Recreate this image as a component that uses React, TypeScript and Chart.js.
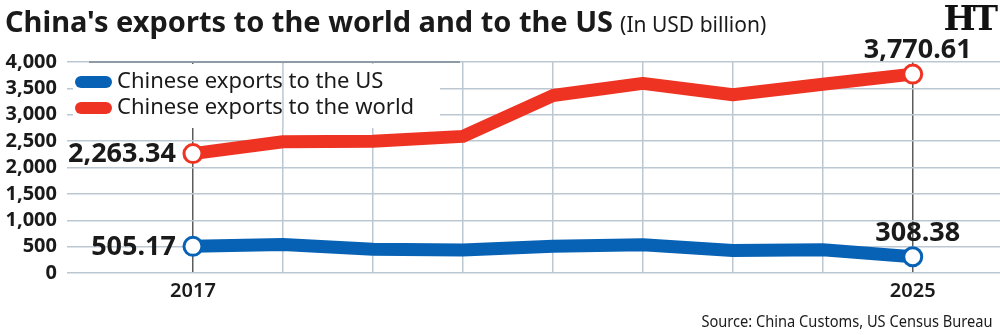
import React, { useEffect, useRef } from 'react';
import { Chart, registerables } from 'chart.js';

Chart.register(...registerables);

// Annual values, USD billion
const years = [2017, 2018, 2019, 2020, 2021, 2022, 2023, 2024, 2025];
const exportsToUS = [505.17, 538.5, 452.2, 435.4, 504.9, 536.3, 426.9, 438.9, 308.38];
const exportsToWorld = [2263.34, 2487.0, 2499.0, 2590.0, 3364.0, 3594.0, 3380.0, 3577.0, 3770.61];
const yTickValues = [0, 500, 1000, 1500, 2000, 2500, 3000, 3500, 4000];
const xTickLabels = ['2017', '2025'];
const seriesLabels = ['Chinese exports to the US', 'Chinese exports to the world'];
const seriesColors = ['#0762b5', '#ef3323'];

const TITLE = "China's exports to the world and to the US";
const SUBTITLE = '(In USD billion)';
const SOURCE = 'Source: China Customs, US Census Bureau';

const FAMILY = "'Noto Sans', 'Open Sans', sans-serif";
const INK = '#1a1a1a';
const GRID = '#bcc8d1';
const DROP = '#5c5c5c';

const fmt = (v: number, digits: number) =>
  v.toLocaleString('en-US', { minimumFractionDigits: digits, maximumFractionDigits: digits });

// Legend box, end-point value labels and highlighted grid pieces
const overlayPlugin = {
  id: 'overlay',
  beforeDatasetsDraw(chart: any) {
    const { ctx, chartArea, scales } = chart;
    const x = scales.x;
    ctx.save();
    // opaque legend panel
    ctx.fillStyle = '#ffffff';
    ctx.fillRect(73, chartArea.top + 2, 367, 64);
    // the 2018 grid line stays visible through the panel
    const gx = x.getPixelForValue(2018);
    ctx.strokeStyle = GRID;
    ctx.lineWidth = 1.5;
    ctx.beginPath();
    ctx.moveTo(gx, chartArea.top);
    ctx.lineTo(gx, chartArea.top + 66);
    ctx.stroke();
    // darker rule along the top of the panel
    ctx.strokeStyle = '#8e9ba6';
    ctx.lineWidth = 2;
    ctx.beginPath();
    ctx.moveTo(89, chartArea.top);
    ctx.lineTo(460, chartArea.top);
    ctx.stroke();

    // legend entries
    chart.data.datasets.forEach((ds: any, i: number) => {
      const cy = 82 + i * 26;
      ctx.strokeStyle = ds.borderColor;
      ctx.lineWidth = 12;
      ctx.lineCap = 'round';
      ctx.beginPath();
      ctx.moveTo(81, cy);
      ctx.lineTo(106, cy);
      ctx.stroke();
      ctx.fillStyle = INK;
      ctx.font = `400 22px ${FAMILY}`;
      ctx.textAlign = 'left';
      ctx.textBaseline = 'middle';
      ctx.fillText(ds.label, 117, cy);
    });
    ctx.restore();
  },
  afterDatasetsDraw(chart: any) {
    const { ctx } = chart;
    ctx.save();
    ctx.fillStyle = INK;
    ctx.font = `700 27px ${FAMILY}`;
    chart.data.datasets.forEach((ds: any, i: number) => {
      const meta = chart.getDatasetMeta(i);
      const first = meta.data[0];
      const last = meta.data[meta.data.length - 1];
      const v0 = ds.data[0].y;
      const v1 = ds.data[ds.data.length - 1].y;
      ctx.textAlign = 'right';
      ctx.textBaseline = 'middle';
      ctx.fillText(fmt(v0, 2), first.x - 17, first.y + 1);
      ctx.textAlign = 'center';
      ctx.textBaseline = 'alphabetic';
      ctx.fillText(fmt(v1, 2), last.x + 5, last.y - 16);
    });
    ctx.restore();
  },
};

export default function App() {
  const canvasRef = useRef<HTMLCanvasElement | null>(null);

  useEffect(() => {
    document.body.style.margin = '0';
    const canvas = canvasRef.current;
    if (!canvas) return;
    const n = years.length;
    const pointR = (c: any) => (c.dataIndex === 0 || c.dataIndex === n - 1 ? 9 : 0);
    const chart = new Chart(canvas, {
      type: 'line',
      data: {
        datasets: [exportsToUS, exportsToWorld].map((vals, i) => ({
          label: seriesLabels[i],
          data: years.map((yr, j) => ({ x: yr, y: vals[j] })),
          borderColor: seriesColors[i],
          backgroundColor: seriesColors[i],
          borderWidth: 13,
          borderJoinStyle: 'round' as const,
          pointRadius: pointR,
          pointHoverRadius: pointR,
          pointBackgroundColor: '#ffffff',
          pointBorderColor: seriesColors[i],
          pointBorderWidth: 3,
          tension: 0,
        })),
      },
      options: {
        animation: false,
        responsive: false,
        devicePixelRatio: 1,
        layout: { autoPadding: false, padding: { top: 62, left: 0, right: 0, bottom: 0 } },
        plugins: { legend: { display: false }, tooltip: { enabled: false }, title: { display: false } },
        scales: {
          x: {
            type: 'linear',
            min: 2015.6,
            max: 2025.97,
            afterBuildTicks: (s: any) => {
              s.ticks = years.map((v) => ({ value: v }));
            },
            afterFit: (s: any) => {
              s.height = 62;
              s.paddingLeft = 0;
              s.paddingRight = 0;
            },
            border: { display: false },
            grid: {
              drawTicks: false,
              lineWidth: 1.5,
              color: (c: any) =>
                c.tick && xTickLabels.includes(String(c.tick.value)) ? DROP : GRID,
            },
            ticks: {
              autoSkip: false,
              maxRotation: 0,
              padding: 6,
              color: INK,
              font: { family: FAMILY, size: 20, weight: '600' as any },
              callback: (v: any) => (xTickLabels.includes(String(v)) ? String(v) : ''),
            },
          },
          y: {
            min: 0,
            max: 4000,
            afterBuildTicks: (s: any) => {
              s.ticks = yTickValues.map((v) => ({ value: v }));
            },
            afterFit: (s: any) => {
              s.width = 67;
            },
            border: { display: false },
            grid: { drawTicks: false, lineWidth: 1.5, color: GRID },
            ticks: {
              autoSkip: false,
              padding: 10,
              color: INK,
              font: { family: FAMILY, size: 20, weight: '700' as any },
              callback: (v: any) => fmt(Number(v), 0),
            },
          },
        },
      },
      plugins: [overlayPlugin],
    });
    return () => chart.destroy();
  }, []);

  return (
    <div style={{ position: 'relative', width: 1000, height: 335, background: '#fff', overflow: 'hidden' }}>
      <canvas ref={canvasRef} width={1000} height={335} style={{ position: 'absolute', left: 0, top: 0 }} />
      <div
        style={{
          position: 'absolute',
          left: 5,
          top: 3,
          fontFamily: FAMILY,
          fontWeight: 700,
          fontSize: 29,
          lineHeight: '36px',
          color: INK,
          whiteSpace: 'nowrap',
        }}
      >
        {TITLE}
        <span style={{ fontWeight: 400, fontSize: 21, marginLeft: 7 }}>{SUBTITLE}</span>
      </div>
      <div
        style={{
          position: 'absolute',
          right: 5,
          top: -1,
          fontFamily: "'DejaVu Serif', 'Liberation Serif', serif",
          fontWeight: 700,
          fontSize: 34,
          lineHeight: '38px',
          letterSpacing: -3,
          color: '#111',
        }}
      >
        HT
      </div>
      <div
        style={{
          position: 'absolute',
          right: 7,
          top: 311,
          fontFamily: FAMILY,
          fontSize: 17,
          lineHeight: '20px',
          color: INK,
          whiteSpace: 'nowrap',
          transform: 'scaleX(0.86)',
          transformOrigin: 'right center',
        }}
      >
        {SOURCE}
      </div>
    </div>
  );
}
